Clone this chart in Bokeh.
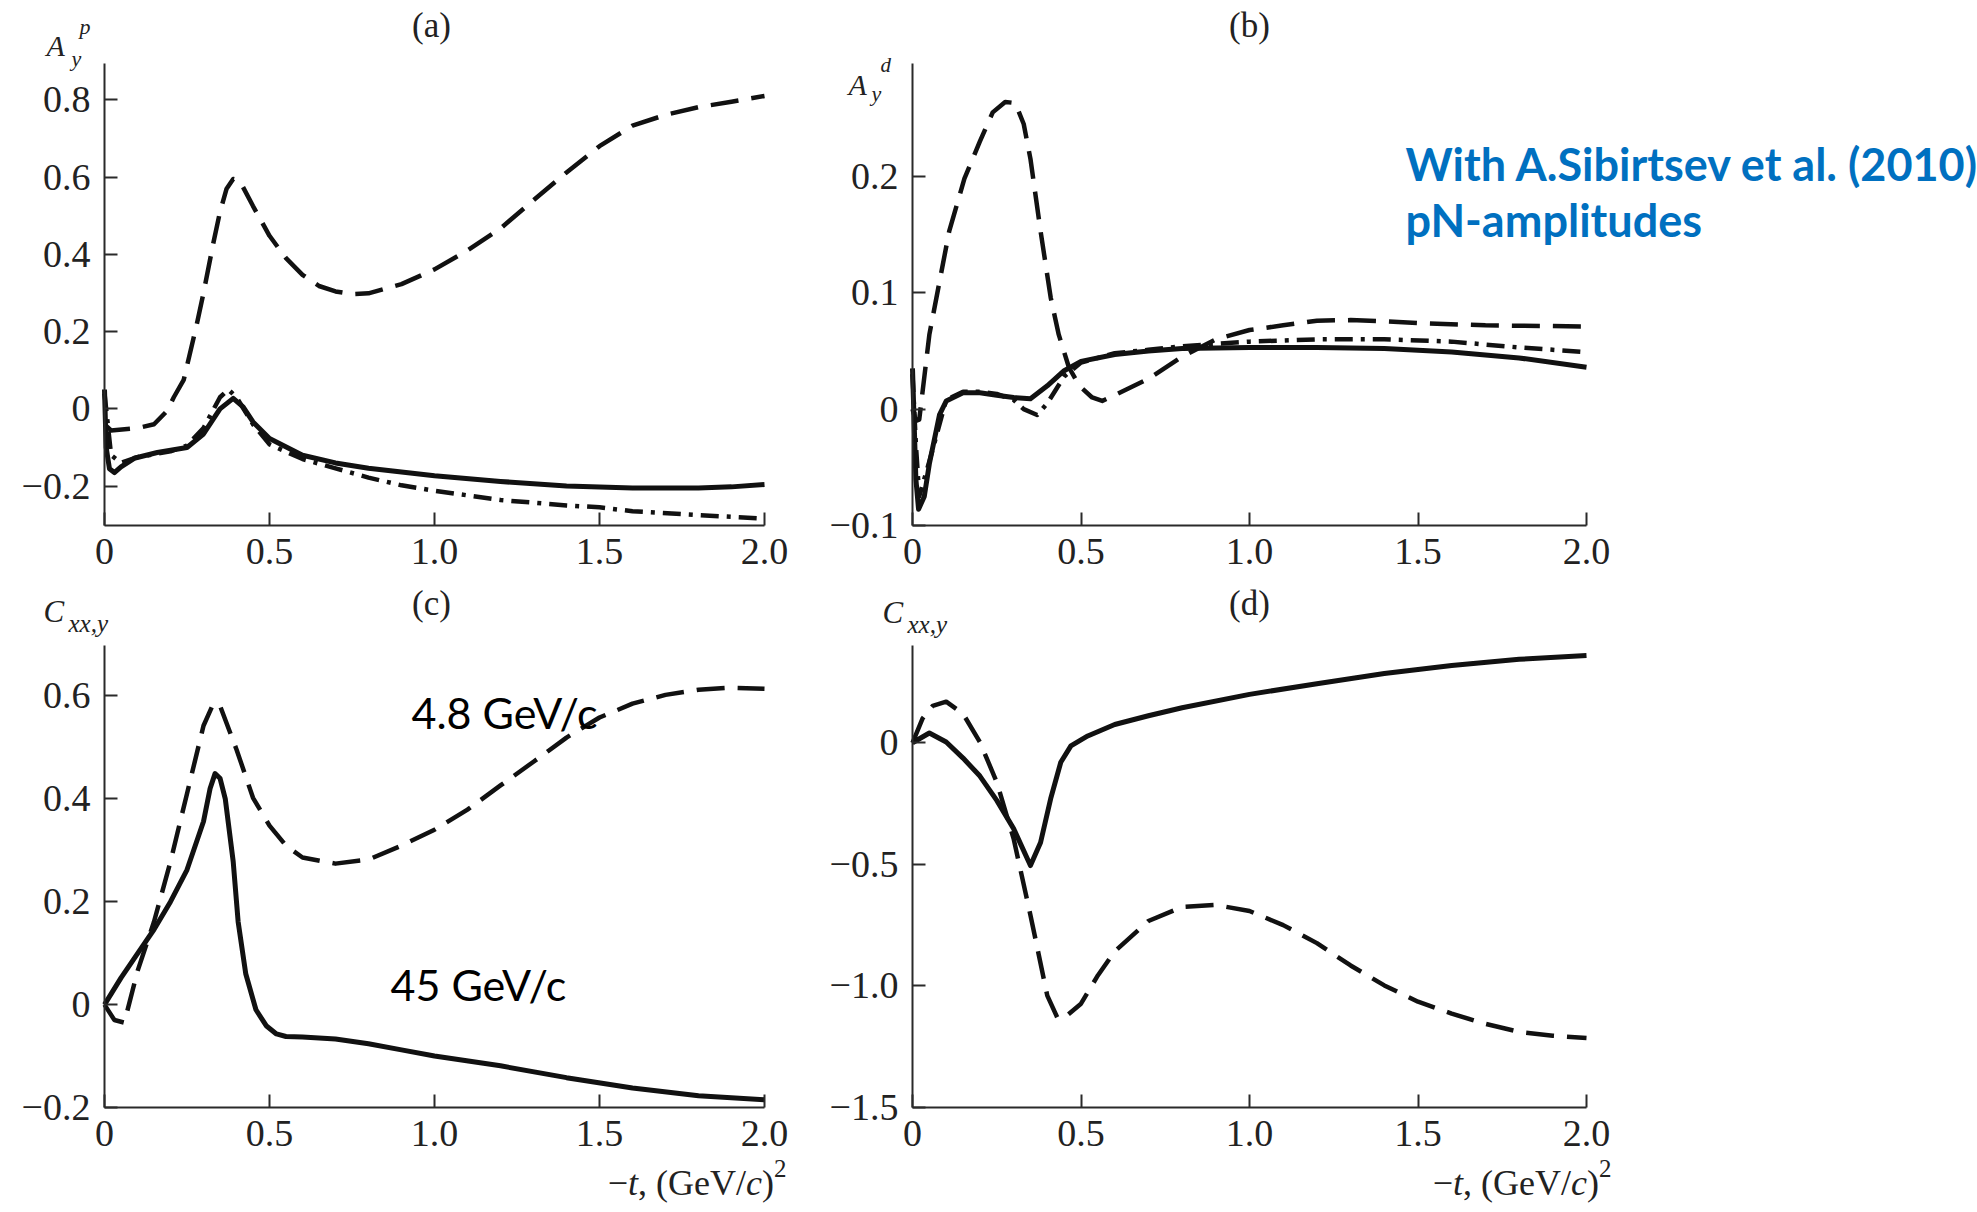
from bokeh.plotting import figure
from bokeh.models import Range1d, FixedTicker, Label, CustomJSTickFormatter, LinearAxis
from bokeh.layouts import column, row
from bokeh.embed import file_html
from bokeh.resources import INLINE

# ---------------- data ----------------
# Panel (a)  A_y^p
a_dash_t = [0.0, 0.02, 0.1, 0.15, 0.19, 0.21, 0.24, 0.28, 0.3, 0.33, 0.35, 0.37, 0.39, 0.41, 0.45, 0.5, 0.55,
            0.6, 0.65, 0.7, 0.75, 0.8, 0.9, 1.0, 1.1, 1.2, 1.3, 1.4, 1.5, 1.6, 1.7, 1.8, 1.9, 2.0]
a_dash_y = [-0.04, -0.056, -0.05, -0.04, -0.005, 0.03, 0.075, 0.22, 0.3, 0.43, 0.51, 0.57, 0.595, 0.59, 0.525,
            0.448, 0.39, 0.347, 0.318, 0.304, 0.297, 0.299, 0.323, 0.361, 0.41, 0.467, 0.54, 0.612, 0.68,
            0.733, 0.761, 0.781, 0.795, 0.81]
a_solid_t = [0.0, 0.005, 0.015, 0.03, 0.05, 0.09, 0.16, 0.25, 0.3, 0.35, 0.39, 0.42, 0.45, 0.5, 0.6, 0.7,
             0.8, 1.0, 1.2, 1.4, 1.6, 1.8, 1.9, 2.0]
a_solid_y = [0.05, -0.1, -0.155, -0.165, -0.15, -0.128, -0.113, -0.1, -0.065, 0.0, 0.027, 0.005, -0.034,
             -0.077, -0.12, -0.14, -0.154, -0.173, -0.188, -0.2, -0.205, -0.205, -0.202, -0.196]
a_dd_t = [0.0, 0.02, 0.05, 0.1, 0.2, 0.25, 0.3, 0.35, 0.375, 0.4, 0.45, 0.5, 0.6, 0.7, 0.8, 0.9, 1.0, 1.2,
          1.4, 1.5, 1.6, 1.8, 2.0]
a_dd_y = [0.04, -0.12, -0.14, -0.125, -0.11, -0.095, -0.05, 0.03, 0.05, 0.03, -0.04, -0.092, -0.13, -0.154,
          -0.178, -0.198, -0.212, -0.236, -0.25, -0.255, -0.265, -0.275, -0.284]

# Panel (b)  A_y^d
b_solid_t = [0.0, 0.01, 0.018, 0.035, 0.05, 0.08, 0.1, 0.15, 0.2, 0.25, 0.3, 0.35, 0.4, 0.45, 0.5, 0.6, 0.7,
             0.8, 1.0, 1.2, 1.4, 1.6, 1.8, 2.0]
b_solid_y = [0.035, -0.06, -0.086, -0.075, -0.047, -0.005, 0.007, 0.014, 0.014, 0.012, 0.010, 0.009, 0.02,
             0.033, 0.041, 0.047, 0.05, 0.052, 0.053, 0.053, 0.052, 0.049, 0.044, 0.036]
b_dash_t = [0.0, 0.01, 0.02, 0.05, 0.109, 0.154, 0.2, 0.238, 0.275, 0.305, 0.33, 0.35, 0.38, 0.41, 0.434,
            0.464, 0.495, 0.533, 0.563, 0.6, 0.7, 0.8, 0.9, 1.0, 1.1, 1.2, 1.3, 1.4, 1.5, 1.7, 2.0]
b_dash_y = [0.0, -0.01, -0.009, 0.064, 0.153, 0.198, 0.23, 0.255, 0.264, 0.263, 0.245, 0.215, 0.153, 0.096,
            0.064, 0.036, 0.02, 0.01, 0.007, 0.012, 0.026, 0.045, 0.06, 0.068, 0.072, 0.076, 0.0765, 0.0755,
            0.074, 0.072, 0.071]
b_dd_t = [0.0, 0.01, 0.02, 0.05, 0.1, 0.15, 0.2, 0.25, 0.3, 0.33, 0.37, 0.4, 0.45, 0.5, 0.6, 0.7, 0.8, 0.9,
          1.0, 1.2, 1.4, 1.6, 1.8, 2.0]
b_dd_y = [0.03, -0.03, -0.075, -0.045, 0.008, 0.015, 0.015, 0.013, 0.008, 0.0, -0.005, 0.005, 0.028, 0.04,
          0.048, 0.051, 0.054, 0.056, 0.058, 0.06, 0.06, 0.058, 0.053, 0.049]

# Panel (c)  C_xx,y
c_dash_t = [0.0, 0.03, 0.06, 0.1, 0.15, 0.2, 0.25, 0.3, 0.33, 0.35, 0.4, 0.45, 0.5, 0.55, 0.6, 0.7, 0.8, 0.9,
            1.0, 1.1, 1.2, 1.3, 1.4, 1.5, 1.6, 1.7, 1.8, 1.9, 2.0]
c_dash_y = [0.0, -0.03, -0.035, 0.065, 0.161, 0.278, 0.41, 0.542, 0.585, 0.581, 0.496, 0.402, 0.348, 0.309,
            0.286, 0.274, 0.282, 0.309, 0.34, 0.379, 0.426, 0.472, 0.519, 0.558, 0.585, 0.602, 0.612, 0.616,
            0.614]
c_solid_t = [0.0, 0.05, 0.1, 0.15, 0.2, 0.25, 0.3, 0.32, 0.335, 0.35, 0.366, 0.39, 0.405, 0.428, 0.459, 0.49,
             0.521, 0.55, 0.6, 0.7, 0.8, 0.9, 1.0, 1.2, 1.4, 1.6, 1.8, 2.0]
c_solid_y = [0.0, 0.052, 0.099, 0.146, 0.2, 0.262, 0.356, 0.42, 0.449, 0.44, 0.40, 0.278, 0.161, 0.06, -0.01,
             -0.041, -0.057, -0.062, -0.063, -0.067, -0.076, -0.088, -0.1, -0.119, -0.142, -0.162, -0.177,
             -0.185]

# Panel (d)  C_xx,y
d_solid_t = [0.0, 0.05, 0.1, 0.15, 0.2, 0.25, 0.3, 0.35, 0.38, 0.41, 0.44, 0.47, 0.52, 0.6, 0.7, 0.8, 1.0,
             1.2, 1.4, 1.6, 1.8, 2.0]
d_solid_y = [0.0, 0.04, 0.003, -0.063, -0.137, -0.237, -0.353, -0.505, -0.41, -0.23, -0.08, -0.013, 0.028,
             0.075, 0.111, 0.144, 0.199, 0.243, 0.285, 0.318, 0.343, 0.359]
d_dash_t = [0.0, 0.03, 0.06, 0.1, 0.15, 0.2, 0.25, 0.3, 0.35, 0.4, 0.43, 0.45, 0.5, 0.55, 0.6, 0.7, 0.8, 0.9,
            1.0, 1.1, 1.2, 1.3, 1.4, 1.5, 1.6, 1.7, 1.8, 1.9, 2.0]
d_dash_y = [0.0, 0.1, 0.152, 0.169, 0.119, 0.003, -0.162, -0.394, -0.709, -1.04, -1.131, -1.131, -1.073,
            -0.957, -0.858, -0.733, -0.675, -0.667, -0.692, -0.75, -0.824, -0.916, -0.998, -1.065, -1.114,
            -1.156, -1.189, -1.205, -1.214]

x_ticks = [0, 0.5, 1.0, 1.5, 2.0]
a_yticks = [-0.2, 0, 0.2, 0.4, 0.6, 0.8]
b_yticks = [-0.1, 0, 0.1, 0.2]
c_yticks = [-0.2, 0, 0.2, 0.4, 0.6]
d_yticks = [-1.5, -1.0, -0.5, 0]

# ---------------- styling / geometry ----------------
SERIF = "Liberation Serif"
INK = "#111111"
AX = "#2a2a2a"

FMT = CustomJSTickFormatter(code="""
if (Math.abs(tick) < 1e-9) { return '0'; }
return (tick < 0 ? '\\u2212' : '') + Math.abs(tick).toFixed(1);
""")


def style_axis(ax):
    ax.axis_line_width = 2
    ax.axis_line_color = AX
    ax.major_tick_in = 13
    ax.major_tick_out = 0
    ax.major_tick_line_width = 2
    ax.major_tick_line_color = AX
    ax.minor_tick_line_color = None
    ax.major_label_text_font = SERIF
    ax.major_label_text_font_size = "38px"
    ax.major_label_text_color = "#222222"
    ax.formatter = FMT


def make_fig(geo, ylo, yhi, yticks):
    # page origin, size, and page pixels of the axis box (x: 0..2, y: ylo..yhi)
    x0, y0, W, H, XL, XR, YT, YB = geo
    sx = 2.0 / (XR - XL)
    sy = (yhi - ylo) / (YB - YT)
    xs, xe = -(XL - x0) * sx, 2.0 + (x0 + W - XR) * sx
    ys, ye = ylo - (y0 + H - YB) * sy, yhi + (YT - y0) * sy
    p = figure(frame_width=W, frame_height=H, min_border=0,
               x_range=Range1d(xs, xe), y_range=Range1d(ys, ye),
               x_axis_location=None, y_axis_location=None,
               output_backend="svg", toolbar_location=None)
    p.grid.visible = False
    p.outline_line_color = None
    p.background_fill_color = "white"
    p.border_fill_color = "white"
    xax = LinearAxis(fixed_location=ylo, bounds=(0, 2), ticker=FixedTicker(ticks=x_ticks))
    yax = LinearAxis(fixed_location=0, bounds=(ylo, yhi), ticker=FixedTicker(ticks=yticks))
    style_axis(xax)
    style_axis(yax)
    xax.major_label_standoff = 13
    yax.major_label_standoff = 14
    p.add_layout(xax, "below")
    p.add_layout(yax, "left")
    p._map = (x0, y0, sx, sy, xs, ye)
    return p


def to_data(p, px, py):
    x0, y0, sx, sy, xs, ye = p._map
    return xs + (px - x0) * sx, ye - (py - y0) * sy


BASE_SHIFT = 0.40   # empirical correction of the rendered baseline (in em)


def lab(p, px, py, text, size, style="normal", font=SERIF, align="left", color="#222222"):
    x, y = to_data(p, px, py - BASE_SHIFT * size)
    p.add_layout(Label(x=x, y=y, text=text, text_font=font, text_font_size=f"{size}px",
                       text_font_style=style, text_color=color, text_align=align,
                       text_baseline="alphabetic"))


def curve(p, t, y, kind):
    dash = {"solid": "solid", "dash": "28 13", "dashdot": "18 8 4 8"}[kind]
    w = 5 if kind == "solid" else 4.5
    p.line(t, y, line_width=w, line_color=INK, line_dash=dash, line_join="round", line_cap="butt")


# page x0, page y0, width, height, x-axis 0 px, x-axis 2.0 px, axis top px, axis bottom px
geo_a = (0, 0, 800, 580, 104, 764, 63, 525)
geo_b = (800, 0, 1177, 580, 912, 1586, 63, 525)
geo_c = (0, 580, 800, 632, 104, 764, 645, 1107)
geo_d = (800, 580, 1177, 632, 912, 1586, 645, 1107)

pa = make_fig(geo_a, -0.302, 0.894, a_yticks)
pb = make_fig(geo_b, -0.1, 0.297, b_yticks)
pc = make_fig(geo_c, -0.2, 0.698, c_yticks)
pd = make_fig(geo_d, -1.5, 0.4, d_yticks)

curve(pa, a_dash_t, a_dash_y, "dash")
curve(pa, a_dd_t, a_dd_y, "dashdot")
curve(pa, a_solid_t, a_solid_y, "solid")
curve(pb, b_dash_t, b_dash_y, "dash")
curve(pb, b_dd_t, b_dd_y, "dashdot")
curve(pb, b_solid_t, b_solid_y, "solid")
curve(pc, c_dash_t, c_dash_y, "dash")
curve(pc, c_solid_t, c_solid_y, "solid")
curve(pd, d_dash_t, d_dash_y, "dash")
curve(pd, d_solid_t, d_solid_y, "solid")

# panel letters
lab(pa, 431, 39, "(a)", 35, align="center")
lab(pb, 1249, 39, "(b)", 35, align="center")
lab(pc, 431, 617, "(c)", 35, align="center")
lab(pd, 1249, 617, "(d)", 35, align="center")

# y-axis symbols
lab(pa, 46, 57, "A", 30, "italic")
lab(pa, 71, 67, "y", 22, "italic")
lab(pa, 79, 35, "p", 22, "italic")
lab(pb, 848, 96, "A", 30, "italic")
lab(pb, 871, 102, "y", 22, "italic")
lab(pb, 880, 73, "d", 21, "italic")
lab(pc, 43, 623, "C", 31, "italic")
lab(pc, 68, 633, "xx,y", 25, "italic")
lab(pd, 882, 624, "C", 31, "italic")
lab(pd, 907, 634, "xx,y", 25, "italic")

# x-axis titles:  -t, (GeV/c)^2
F = 36
pieces = [("\u2212", "normal", F, 0.564, 0), ("t", "italic", F, 0.278, 0),
          (", (GeV/", "normal", F, 2.999, 0), ("c", "italic", F, 0.444, 0),
          (")", "normal", F, 0.333, 0), ("2", "normal", 25, 0.5, -15)]
for p, right in ((pc, 786), (pd, 1611)):
    total = sum(wd * sz for _, _, sz, wd, _ in pieces)
    xx = right - total
    for txt, st, sz, wd, dy in pieces:
        lab(p, xx, 1197 + dy + BASE_SHIFT * (sz - F), txt, sz, st)
        xx += wd * sz

# annotations
lab(pc, 411, 729, "4.8 GeV/c", 43, font="Lato", color="#000000")
lab(pc, 390, 1001, "45 GeV/c", 43, font="Lato", color="#000000")
lab(pb, 1405, 181, "With A.Sibirtsev et al. (2010)", 45, "bold", font="Lato", color="#0070C0")
lab(pb, 1405, 237, "pN-amplitudes", 45, "bold", font="Lato", color="#0070C0")

layout = column(row(pa, pb, spacing=0), row(pc, pd, spacing=0), spacing=0)
open("out.html", "w").write(file_html(layout, INLINE))
